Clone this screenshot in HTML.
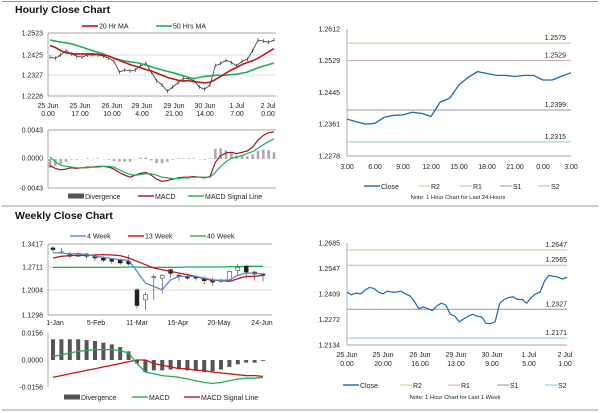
<!DOCTYPE html>
<html><head><meta charset="utf-8">
<style>
html,body{margin:0;padding:0;background:#fff;}
svg{display:block;font-family:"Liberation Sans",Arial,sans-serif;}
.t{font-size:7px;fill:#222;}
.ttl{font-size:10.5px;font-weight:bold;fill:#111;}
.ax{stroke:#888;stroke-width:0.7;}
.gr{stroke:#d0d0d0;stroke-width:0.7;}
</style></head>
<body>
<svg id="s" width="600" height="413" viewBox="0 0 600 413">
<line x1="2" y1="1.5" x2="598" y2="1.5" stroke="#999" stroke-width="1"/>
<line x1="2" y1="206" x2="598" y2="206" stroke="#999" stroke-width="1"/>
<line x1="2" y1="410" x2="598" y2="410" stroke="#999" stroke-width="1"/>
<text x="15" y="13" class="ttl">Hourly Close Chart</text>
<text x="15" y="219" class="ttl">Weekly Close Chart</text>

<!-- hourly price axes -->
<g>
<line class="gr" x1="48" y1="55" x2="276" y2="55"/><line class="gr" x1="48" y1="75" x2="276" y2="75"/>
<line class="ax" x1="48" y1="33" x2="276" y2="33"/>
<line class="ax" x1="48" y1="33" x2="48" y2="96"/><line class="ax" x1="48" y1="96" x2="276" y2="96"/>
<text class="t" x="43" y="35.5" text-anchor="end">1.2523</text><text class="t" x="43" y="57.5" text-anchor="end">1.2425</text>
<text class="t" x="43" y="77.5" text-anchor="end">1.2327</text><text class="t" x="43" y="98.5" text-anchor="end">1.2228</text>
<g text-anchor="middle">
<text class="t" x="48" y="108">25 Jun</text><text class="t" x="48" y="116">0.00</text>
<text class="t" x="80" y="108">25 Jun</text><text class="t" x="80" y="116">17.00</text>
<text class="t" x="112" y="108">26 Jun</text><text class="t" x="112" y="116">10.00</text>
<text class="t" x="142" y="108">29 Jun</text><text class="t" x="142" y="116">4.00</text>
<text class="t" x="174" y="108">29 Jun</text><text class="t" x="174" y="116">21.00</text>
<text class="t" x="205" y="108">30 Jun</text><text class="t" x="205" y="116">14.00</text>
<text class="t" x="237" y="108">1 Jul</text><text class="t" x="237" y="116">7.00</text>
<text class="t" x="268" y="108">2 Jul</text><text class="t" x="268" y="116">0.00</text>
</g>
<line x1="82" y1="26" x2="98" y2="26" stroke="#c0161c" stroke-width="1.6"/><text class="t" x="99" y="28.5">20 Hr MA</text>
<line x1="156" y1="26" x2="172" y2="26" stroke="#1fae56" stroke-width="1.6"/><text class="t" x="173" y="28.5">50 Hrs MA</text>
</g>
<!-- hourly macd axes -->
<g>
<line class="ax" x1="48" y1="130" x2="276" y2="130"/><line class="ax" x1="48" y1="130" x2="48" y2="188"/>
<line class="ax" x1="48" y1="188" x2="276" y2="188"/>
<text class="t" x="43" y="132.5" text-anchor="end">0.0043</text><text class="t" x="43" y="160.5" text-anchor="end">0.0000</text>
<text class="t" x="43" y="190.5" text-anchor="end">-0.0043</text>
<rect x="68" y="193.5" width="16" height="5" fill="#555"/><text class="t" x="85" y="199">Divergence</text>
<line x1="138" y1="196" x2="154" y2="196" stroke="#a0141a" stroke-width="1.4"/><text class="t" x="155" y="199">MACD</text>
<line x1="188" y1="196" x2="204" y2="196" stroke="#1fae56" stroke-width="1.4"/><text class="t" x="205" y="199">MACD Signal Line</text>
</g>

<!-- right hourly axes -->
<g>
<line class="ax" x1="347" y1="29" x2="347" y2="156"/><line class="ax" x1="347" y1="156" x2="571" y2="156"/>
<text class="t" x="340" y="31.5" text-anchor="end">1.2612</text><text class="t" x="340" y="63" text-anchor="end">1.2529</text>
<text class="t" x="340" y="95" text-anchor="end">1.2445</text><text class="t" x="340" y="126.5" text-anchor="end">1.2361</text>
<text class="t" x="340" y="158.5" text-anchor="end">1.2278</text>
<g text-anchor="middle">
<text class="t" x="347" y="169">3.00</text><text class="t" x="375" y="169">6.00</text><text class="t" x="403" y="169">9.00</text>
<text class="t" x="431" y="169">12.00</text><text class="t" x="459" y="169">15.00</text><text class="t" x="487" y="169">18.00</text>
<text class="t" x="515" y="169">21.00</text><text class="t" x="543" y="169">0.00</text><text class="t" x="571" y="169">3.00</text>
</g>
<line x1="364" y1="186" x2="380" y2="186" stroke="#1a6aae" stroke-width="1.4"/><text class="t" x="381" y="189">Close</text>
<line x1="418" y1="186" x2="430" y2="186" stroke="#c8c890" stroke-width="1"/><text class="t" x="431" y="189">R2</text>
<line x1="460" y1="186" x2="472" y2="186" stroke="#d8a8a8" stroke-width="1"/><text class="t" x="473" y="189">R1</text>
<line x1="500" y1="186" x2="512" y2="186" stroke="#9a90b0" stroke-width="1"/><text class="t" x="513" y="189">S1</text>
<line x1="538" y1="186" x2="550" y2="186" stroke="#8cc4d8" stroke-width="1"/><text class="t" x="551" y="189">S2</text>
<text x="458" y="199" text-anchor="middle" style="font-size:5.8px" fill="#222">Note: 1 Hour Chart for Last 24 Hours</text>
</g>

<!-- weekly price axes -->
<g>
<line class="gr" x1="48" y1="267" x2="272" y2="267"/><line class="gr" x1="48" y1="290" x2="272" y2="290"/>
<line class="ax" x1="48" y1="244" x2="272" y2="244"/>
<line class="ax" x1="48" y1="244" x2="48" y2="315"/><line class="ax" x1="48" y1="315" x2="272" y2="315"/>
<text class="t" x="43" y="246.5" text-anchor="end">1.3417</text><text class="t" x="43" y="269.5" text-anchor="end">1.2711</text>
<text class="t" x="43" y="292.5" text-anchor="end">1.2004</text><text class="t" x="43" y="317.5" text-anchor="end">1.1298</text>
<g text-anchor="middle">
<text class="t" x="55" y="325">1-Jan</text><text class="t" x="96" y="325">5-Feb</text><text class="t" x="137" y="325">11-Mar</text>
<text class="t" x="178" y="325">15-Apr</text><text class="t" x="219" y="325">20-May</text><text class="t" x="262" y="325">24-Jun</text>
</g>
<line x1="70" y1="236" x2="86" y2="236" stroke="#5a8ac6" stroke-width="1.4"/><text class="t" x="87" y="238.5">4 Week</text>
<line x1="128" y1="236" x2="144" y2="236" stroke="#c0161c" stroke-width="1.4"/><text class="t" x="145" y="238.5">13 Week</text>
<line x1="190" y1="236" x2="206" y2="236" stroke="#1fae56" stroke-width="1.4"/><text class="t" x="207" y="238.5">40 Week</text>
</g>
<g>
<line class="ax" x1="48" y1="333" x2="48" y2="387"/>
<text class="t" x="43" y="335.5" text-anchor="end">0.0156</text><text class="t" x="43" y="362.5" text-anchor="end">0.0000</text>
<text class="t" x="43" y="389.5" text-anchor="end">-0.0156</text>
<rect x="64" y="394.5" width="16" height="5" fill="#555"/><text class="t" x="81" y="400">Divergence</text>
<line x1="132" y1="397" x2="148" y2="397" stroke="#1fae56" stroke-width="1.4"/><text class="t" x="149" y="400">MACD</text>
<line x1="184" y1="397" x2="200" y2="397" stroke="#c0161c" stroke-width="1.4"/><text class="t" x="201" y="400">MACD Signal Line</text>
</g>

<!-- right weekly axes -->
<g>
<line class="ax" x1="347" y1="243" x2="347" y2="345"/><line class="ax" x1="347" y1="345" x2="567" y2="345"/>
<text class="t" x="340" y="245.5" text-anchor="end">1.2685</text><text class="t" x="340" y="271" text-anchor="end">1.2547</text>
<text class="t" x="340" y="296.5" text-anchor="end">1.2409</text><text class="t" x="340" y="322" text-anchor="end">1.2272</text>
<text class="t" x="340" y="347.5" text-anchor="end">1.2134</text>
<g text-anchor="middle">
<text class="t" x="347" y="357">25 Jun</text><text class="t" x="347" y="366">0.00</text>
<text class="t" x="383" y="357">25 Jun</text><text class="t" x="383" y="366">20.00</text>
<text class="t" x="420" y="357">26 Jun</text><text class="t" x="420" y="366">16.00</text>
<text class="t" x="456" y="357">29 Jun</text><text class="t" x="456" y="366">13.00</text>
<text class="t" x="492" y="357">30 Jun</text><text class="t" x="492" y="366">9.00</text>
<text class="t" x="529" y="357">1 Jul</text><text class="t" x="529" y="366">5.00</text>
<text class="t" x="565" y="357">2 Jul</text><text class="t" x="565" y="366">1.00</text>
</g>
<line x1="343" y1="385" x2="359" y2="385" stroke="#1a6aae" stroke-width="1.4"/><text class="t" x="360" y="388">Close</text>
<line x1="400" y1="385" x2="412" y2="385" stroke="#c8c890" stroke-width="1"/><text class="t" x="413" y="388">R2</text>
<line x1="448" y1="385" x2="460" y2="385" stroke="#d8a8a8" stroke-width="1"/><text class="t" x="461" y="388">R1</text>
<line x1="497" y1="385" x2="509" y2="385" stroke="#9a90b0" stroke-width="1"/><text class="t" x="510" y="388">S1</text>
<line x1="545" y1="385" x2="557" y2="385" stroke="#8cc4d8" stroke-width="1"/><text class="t" x="558" y="388">S2</text>
<text x="455" y="399" text-anchor="middle" style="font-size:5.8px" fill="#222">Note: 1 Hour Chart for Last 1 Week</text>
</g>
<g id="marks"></g>
</svg>
<script>
// ---- Hourly (left) data ----
const hClose=[1.2410,1.2405,1.2420,1.2440,1.2425,1.2415,1.2410,1.2420,1.2420,1.2420,1.2415,1.2405,1.2390,1.2340,1.2350,1.2345,1.2350,1.2370,1.2380,1.2340,1.2300,1.2280,1.2250,1.2270,1.2290,1.2310,1.2310,1.2300,1.2270,1.2260,1.2280,1.2370,1.2380,1.2395,1.2385,1.2370,1.2390,1.2400,1.2440,1.2490,1.2485,1.2480,1.2490];
const hMA20=[1.2465,1.2455,1.2440,1.2430,1.2427,1.2425,1.2425,1.2425,1.2425,1.2423,1.2420,1.2415,1.2405,1.2395,1.2385,1.2375,1.2368,1.2360,1.2352,1.2345,1.2335,1.2325,1.2315,1.2308,1.2302,1.2298,1.2300,1.2295,1.2292,1.2290,1.2292,1.2305,1.2320,1.2335,1.2350,1.2362,1.2375,1.2385,1.2393,1.2405,1.2420,1.2435,1.2450];
const hMA50=[1.2490,1.2485,1.2480,1.2477,1.2472,1.2465,1.2457,1.2448,1.2440,1.2432,1.2425,1.2415,1.2405,1.2397,1.2392,1.2388,1.2385,1.2380,1.2372,1.2365,1.2357,1.2350,1.2343,1.2337,1.2330,1.2322,1.2315,1.2310,1.2315,1.2320,1.2322,1.2325,1.2325,1.2326,1.2328,1.2330,1.2335,1.2340,1.2350,1.2360,1.2368,1.2375,1.2382];
const hMacd=[-0.0010,-0.0014,-0.0016,-0.0015,-0.0013,-0.0014,-0.0013,-0.0012,-0.0012,-0.0011,-0.0011,-0.0012,-0.0015,-0.0020,-0.0024,-0.0027,-0.0024,-0.0021,-0.0020,-0.0024,-0.0030,-0.0033,-0.0032,-0.0030,-0.0028,-0.0027,-0.0027,-0.0026,-0.0027,-0.0028,-0.0026,-0.0005,0.0005,0.0009,0.0010,0.0008,0.0010,0.0012,0.0018,0.0028,0.0035,0.0039,0.0040];
const hSignal=[0.0003,-0.0004,-0.0009,-0.0011,-0.0012,-0.0013,-0.0013,-0.0013,-0.0012,-0.0012,-0.0011,-0.0011,-0.0012,-0.0016,-0.0020,-0.0023,-0.0024,-0.0023,-0.0022,-0.0022,-0.0024,-0.0027,-0.0028,-0.0029,-0.0029,-0.0028,-0.0028,-0.0027,-0.0027,-0.0027,-0.0027,-0.0020,-0.0011,-0.0004,0.0001,0.0003,0.0005,0.0008,0.0011,0.0016,0.0021,0.0026,0.0030];
// ---- Hourly 24h (right) ----
const d24Close=[1.2375,1.2368,1.2362,1.2364,1.2380,1.2385,1.2386,1.2393,1.2390,1.2382,1.2420,1.2430,1.2465,1.2485,1.2500,1.2495,1.2490,1.2490,1.2487,1.2490,1.2490,1.2478,1.2478,1.2488,1.2497];
const d24Levels=[1.2575,1.2529,1.2399,1.2315];
const levelNames=['R2','R1','S1','S2'];
// ---- Weekly (left) ----
const wOpen=[1.330,1.318,1.310,1.305,1.312,1.305,1.300,1.298,1.295,1.290,1.205,1.175,1.245,1.240,1.265,1.248,1.245,1.245,1.240,1.235,1.232,1.232,1.262,1.275,1.258,1.252];
const wClose=[1.325,1.318,1.305,1.312,1.305,1.300,1.293,1.290,1.285,1.282,1.158,1.190,1.245,1.248,1.254,1.245,1.240,1.240,1.232,1.228,1.232,1.260,1.272,1.258,1.252,1.248];
const wHigh=[1.335,1.330,1.318,1.318,1.315,1.312,1.305,1.300,1.298,1.310,1.210,1.198,1.250,1.252,1.268,1.252,1.250,1.248,1.245,1.242,1.238,1.262,1.282,1.280,1.262,1.255];
const wLow=[1.318,1.312,1.300,1.305,1.298,1.292,1.288,1.283,1.280,1.278,1.150,1.143,1.175,1.195,1.240,1.232,1.235,1.232,1.222,1.218,1.226,1.236,1.248,1.238,1.232,1.230];
const w4=[1.315,1.315,1.312,1.313,1.310,1.305,1.302,1.298,1.295,1.293,1.260,1.225,1.215,1.205,1.235,1.245,1.245,1.245,1.240,1.235,1.233,1.235,1.248,1.255,1.255,1.252];
const w13=[1.300,1.305,1.307,1.308,1.308,1.309,1.310,1.309,1.307,1.300,1.290,1.280,1.270,1.265,1.260,1.255,1.250,1.245,1.238,1.233,1.233,1.230,1.238,1.245,1.245,1.248];
const w40=[1.272,1.272,1.272,1.272,1.272,1.272,1.272,1.272,1.272,1.273,1.273,1.272,1.272,1.272,1.272,1.272,1.273,1.273,1.273,1.273,1.273,1.274,1.274,1.275,1.275,1.275];
const wMacd=[0.002,0.003,0.004,0.005,0.0055,0.006,0.006,0.006,0.0055,0.004,-0.002,-0.007,-0.008,-0.009,-0.0095,-0.010,-0.011,-0.012,-0.013,-0.0135,-0.013,-0.012,-0.011,-0.0105,-0.0105,-0.010];
const wSignal=[-0.010,-0.009,-0.008,-0.007,-0.006,-0.005,-0.004,-0.003,-0.002,-0.001,0.000,0.000,-0.002,-0.003,-0.004,-0.005,-0.005,-0.006,-0.006,-0.007,-0.0075,-0.008,-0.0085,-0.009,-0.009,-0.0095];
// ---- Weekly 1-hour (right) ----
const wkClose=[1.2420,1.2405,1.2415,1.2410,1.2430,1.2445,1.2440,1.2420,1.2410,1.2425,1.2420,1.2420,1.2425,1.2410,1.2400,1.2370,1.2330,1.2340,1.2330,1.2320,1.2345,1.2360,1.2350,1.2300,1.2290,1.2260,1.2275,1.2290,1.2300,1.2290,1.2285,1.2250,1.2250,1.2260,1.2360,1.2380,1.2390,1.2395,1.2380,1.2380,1.2360,1.2390,1.2410,1.2420,1.2480,1.2510,1.2505,1.2500,1.2490,1.2500];
const wkLevels=[1.2647,1.2565,1.2327,1.2171];

const NS='http://www.w3.org/2000/svg';
const root=document.getElementById('marks');
function lin(d0,d1,r0,r1){return v=>r0+(v-d0)/(d1-d0)*(r1-r0);}
function el(tag,attrs){const e=document.createElementNS(NS,tag);for(const k in attrs)e.setAttribute(k,attrs[k]);root.appendChild(e);return e;}
function poly(vals,xf,yf,color,w,name){
  const p=el('polyline',{points:vals.map((v,i)=>xf(i).toFixed(1)+','+yf(v).toFixed(1)).join(' '),fill:'none',stroke:color,'stroke-width':w,'stroke-linejoin':'round'});
  
  
}
function levels(vals,x0,x1,yf,colors,pref,xl){
  vals.forEach((v,i)=>{
    const l=el('line',{x1:x0,x2:x1,y1:yf(v),y2:yf(v),stroke:colors[i],'stroke-width':1});
    
    
    const t=el('text',{x:xl,y:yf(v)-3,'text-anchor':'end',class:'t'});
    t.textContent=v.toFixed(4);
    
    
  });
}
const lvlColors=['#c8c890','#d8a8a8','#9a90b0','#8cc4d8'];

// Hourly left price
{const xf=lin(0,hClose.length-1,50,274), yf=lin(1.2228,1.2523,96,33);
 poly(hClose,xf,yf,'#333',0.8,'hourly-close-line');
 hClose.forEach((v,i)=>{const t=el('line',{x1:xf(i),x2:xf(i),y1:yf(v)-2,y2:yf(v)+2,stroke:'#333','stroke-width':0.6});
   
   });
 poly(hMA50,xf,yf,'#1fae56',1.6,'ma50-line');
 poly(hMA20,xf,yf,'#c0161c',1.6,'ma20-line');}
// Hourly macd
{const xf=lin(0,hMacd.length-1,50,274), yf=lin(-0.0043,0.0043,188,130);
 hMacd.forEach((v,i)=>{const d=v-hSignal[i];const y=yf(Math.max(d,0)),h=Math.abs(yf(d)-yf(0));
   const r=el('rect',{x:xf(i)-1.3,y:y,width:2.6,height:Math.max(h,0.3),fill:'#aaa'});
   
   });
 poly(hMacd,xf,yf,'#a0141a',1.2,'hourly-macd-line');
 poly(hSignal,xf,yf,'#1fae56',1.2,'hourly-signal-line');}
// Hourly right
{const xf=lin(0,d24Close.length-1,347,571), yf=lin(1.2278,1.2612,156,29);
 levels(d24Levels,347,571,yf,lvlColors,'hourly',566);
 poly(d24Close,xf,yf,'#1a6aae',1.3,'hourly-24h-close-line');}
// Weekly left
{const xf=i=>53+i*8.4, yf=lin(1.1298,1.3417,315,244);
 poly(w40,xf,yf,'#1fae56',1.3,'week40-line');
 wOpen.forEach((o,i)=>{const c=wClose[i];
   const w=el('line',{x1:xf(i),x2:xf(i),y1:yf(wHigh[i]),y2:yf(wLow[i]),stroke:'#333','stroke-width':0.6});
   
   
   const top=yf(Math.max(o,c)),h=Math.max(Math.abs(yf(o)-yf(c)),1);
   const r=el('rect',{x:xf(i)-2,y:top,width:4,height:h,fill:c<o?'#222':'#fff',stroke:'#222','stroke-width':0.5});
   
   });
 poly(w13,xf,yf,'#c0161c',1.3,'week13-line');
 poly(w4,xf,yf,'#5a8ac6',1.3,'week4-line');}
// Weekly macd
{const xf=i=>53+i*8.4, yf=lin(-0.0156,0.0156,387,333);
 wMacd.forEach((v,i)=>{const d=v-wSignal[i];const y=yf(Math.max(d,0)),h=Math.abs(yf(d)-yf(0));
   const r=el('rect',{x:xf(i)-2,y:y,width:4,height:Math.max(h,0.3),fill:'#555'});
   
   });
 poly(wSignal,xf,yf,'#c0161c',1.3,'weekly-signal-line');
 poly(wMacd,xf,yf,'#1fae56',1.3,'weekly-macd-line');}
// Weekly right
{const xf=lin(0,wkClose.length-1,347,567), yf=lin(1.2134,1.2685,345,243);
 levels(wkLevels,347,567,yf,lvlColors,'weekly',567);
 poly(wkClose,xf,yf,'#1a6aae',1.2,'weekly-1h-close-line');}
</script>
</body></html>
